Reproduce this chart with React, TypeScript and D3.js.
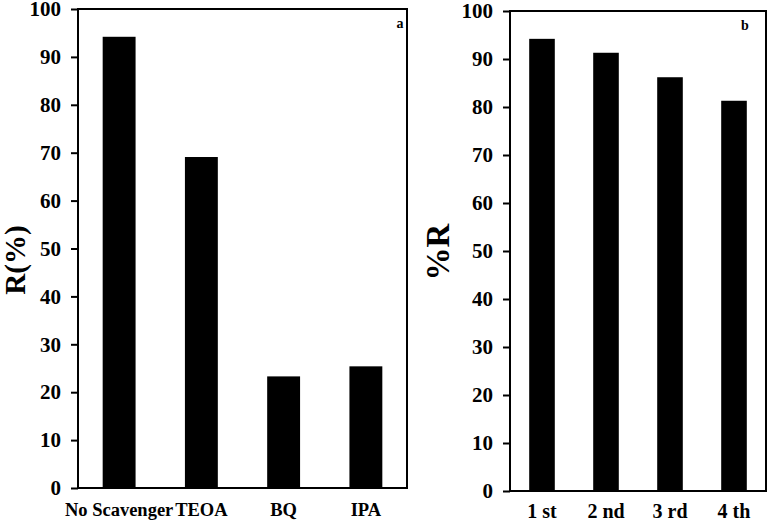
import * as d3 from "d3";
import { useEffect, useRef } from "react";

// panel a: scavenger test
const scavengers = ["No Scavenger", "TEOA", "BQ", "IPA"];
const scavengerR = [94.2, 69.1, 23.3, 25.4];

// panel b: reuse cycles
const cycles = ["1 st", "2 nd", "3 rd", "4 th"];
const cycleR = [94.2, 91.3, 86.2, 81.3];

const yTicks = [0, 10, 20, 30, 40, 50, 60, 70, 80, 90, 100];

const FONT = "'Liberation Serif', 'Times New Roman', serif";

function drawPanel(
  g: d3.Selection<SVGGElement, unknown, null, undefined>,
  opts: {
    cats: string[];
    vals: number[];
    left: number;
    right: number;
    top: number;
    bottom: number;
    title: string;
    titleX: number;
    titleY: number;
    titleSize: number;
    tag: string;
    tagX: number;
    tagY: number;
    catSize: number;
    catY: number;
  }
) {
  const x = d3
    .scaleBand()
    .domain(opts.cats)
    .range([opts.left, opts.right])
    .paddingInner(0.6)
    .paddingOuter(0.3);
  const y = d3.scaleLinear().domain([0, 100]).range([opts.bottom, opts.top]);

  g.selectAll(".bar")
    .data(opts.vals)
    .join("rect")
    .attr("class", "bar")
    .attr("x", (v, i) => x(opts.cats[i]) as number)
    .attr("y", (v) => y(v))
    .attr("width", x.bandwidth())
    .attr("height", (v) => y(0) - y(v))
    .attr("fill", "#000");

  // frame
  g.append("rect")
    .attr("x", opts.left)
    .attr("y", opts.top)
    .attr("width", opts.right - opts.left)
    .attr("height", opts.bottom - opts.top)
    .attr("fill", "none")
    .attr("stroke", "#000")
    .attr("stroke-width", 2);

  const yAxis = d3
    .axisLeft(y)
    .tickValues(yTicks)
    .tickSize(7)
    .tickPadding(10)
    .tickSizeOuter(0);
  const ax = g
    .append("g")
    .attr("transform", `translate(${opts.left},0)`)
    .call(yAxis);
  ax.select(".domain").remove();
  ax.selectAll("line").attr("stroke", "#000").attr("stroke-width", 2);
  ax.selectAll("text")
    .attr("font-family", FONT)
    .attr("font-weight", "bold")
    .attr("font-size", 21)
    .attr("fill", "#000");

  g.selectAll(".cat")
    .data(opts.cats)
    .join("text")
    .attr("class", "cat")
    .attr("x", (c) => (x(c) as number) + x.bandwidth() / 2)
    .attr("y", opts.catY)
    .attr("text-anchor", "middle")
    .attr("font-family", FONT)
    .attr("font-weight", "bold")
    .attr("font-size", opts.catSize)
    .text((c) => c);

  g.append("text")
    .attr("transform", `translate(${opts.titleX},${opts.titleY}) rotate(-90)`)
    .attr("text-anchor", "middle")
    .attr("font-family", FONT)
    .attr("font-weight", "bold")
    .attr("font-size", opts.titleSize)
    .text(opts.title);

  g.append("text")
    .attr("x", opts.tagX)
    .attr("y", opts.tagY)
    .attr("text-anchor", "middle")
    .attr("font-family", FONT)
    .attr("font-weight", "bold")
    .attr("font-size", 14)
    .text(opts.tag);
}

export default function App() {
  const svgRef = useRef<SVGSVGElement>(null);

  useEffect(() => {
    const svg = d3.select(svgRef.current);
    svg.selectAll("*").remove();

    drawPanel(svg.append("g"), {
      cats: scavengers,
      vals: scavengerR,
      left: 78,
      right: 407,
      top: 9,
      bottom: 488,
      title: "R(%)",
      titleX: 25,
      titleY: 260,
      titleSize: 29,
      tag: "a",
      tagX: 400,
      tagY: 28,
      catSize: 18.5,
      catY: 516,
    });

    drawPanel(svg.append("g"), {
      cats: cycles,
      vals: cycleR,
      left: 510,
      right: 766,
      top: 11,
      bottom: 491,
      title: "%R",
      titleX: 449,
      titleY: 252,
      titleSize: 33,
      tag: "b",
      tagX: 745,
      tagY: 30,
      catSize: 20,
      catY: 518,
    });
  }, []);

  return (
    <svg
      ref={svgRef}
      width={768}
      height={524}
      style={{ position: "absolute", left: 0, top: 0, background: "#fff" }}
    />
  );
}
